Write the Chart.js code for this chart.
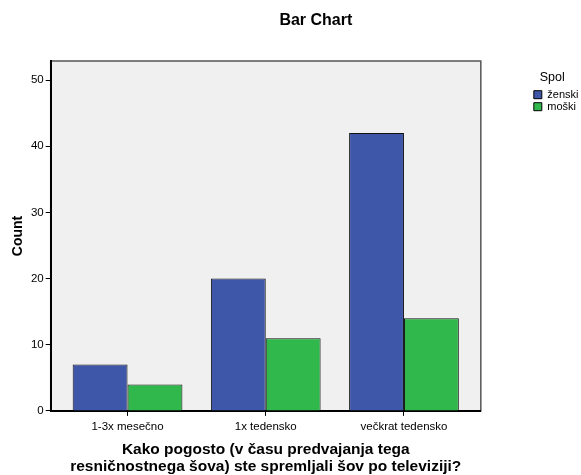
<!DOCTYPE html>
<html>
<head>
<meta charset="utf-8">
<script src="https://cdn.jsdelivr.net/npm/chart.js@4"></script>
<style>
  body { margin: 0; background: #fff; }
  #wrap { width: 581px; height: 475px; }
</style>
</head>
<body>
<div id="wrap"><canvas id="bar-chart"></canvas></div>
<script>
const categories = ["1-3x mesečno", "1x tedensko", "večkrat tedensko"];
const zenski = [7, 20, 42];
const moski = [4, 11, 14];
const y_ticks = [0, 10, 20, 30, 40, 50];

const ctx = document.getElementById("bar-chart").getContext("2d");
Chart.defaults.font.family = "'Liberation Sans', Arial, sans-serif";
Chart.defaults.color = "#000";

// grey plot background + frame, like the SPSS output
const plotFrame = {
  id: "plotFrame",
  afterLayout(chart) {
    // SPSS leaves a little gap between the frame and the first/last category
    const x = chart.scales.x, inset = 7.75;
    x._startPixel += inset;
    x._endPixel -= inset;
    x._length -= 2 * inset;
    // title is centred over plot + legend, not the whole canvas
    if (chart.titleBlock) {
      chart.titleBlock.left = chart.chartArea.left;
      chart.titleBlock.right = chart.width;
    }
    // legend title "Spol" sits a bit left of the legend's centre
    if (chart.legend) chart.legend.width -= 17;
  },
  beforeDraw(chart) {
    const a = chart.chartArea, c = chart.ctx;
    c.save();
    c.fillStyle = "#f0f0f0";
    c.fillRect(a.left, a.top, a.right - a.left, a.bottom - a.top);
    c.strokeStyle = "#555";
    c.lineWidth = 1.5;
    c.strokeRect(a.left, a.top, a.right - a.left, a.bottom - a.top);
    c.restore();
  }
};

new Chart(ctx, {
  type: "bar",
  data: {
    labels: categories,
    datasets: [
      {
        label: "ženski",
        data: zenski,
        backgroundColor: "rgb(62, 87, 168)",
        borderColor: "#111",
        borderWidth: 1
      },
      {
        label: "moški",
        data: moski,
        backgroundColor: "rgb(48, 184, 76)",
        borderColor: "#111",
        borderWidth: 1
      }
    ]
  },
  options: {
    responsive: true,
    maintainAspectRatio: false,
    animation: false,
    categoryPercentage: 0.794,
    barPercentage: 1,
    layout: { padding: { top: 0, right: -7.5, bottom: 0, left: 0 } },
    plugins: {
      title: {
        display: true,
        text: "Bar Chart",
        font: { size: 16, weight: "bold" },
        padding: { top: 11.4, bottom: 30.4 }
      },
      legend: {
        position: "right",
        align: "start",
        fullSize: false,
        title: {
          display: true,
          text: "Spol",
          position: "center",
          font: { size: 12.5 },
          padding: { top: 10.6, bottom: 1.6 }
        },
        labels: {
          boxWidth: 8,
          boxHeight: 8,
          padding: 1,
          font: { size: 11 },
          generateLabels(chart) {
            return chart.data.datasets.map((ds, i) => ({
              text: ds.label,
              fillStyle: ds.backgroundColor,
              strokeStyle: "#000",
              lineWidth: 1,
              datasetIndex: i
            }));
          }
        }
      },
      tooltip: { enabled: false }
    },
    scales: {
      x: {
        grid: { display: true, drawOnChartArea: false, offset: false, tickLength: 5, color: "#000", lineWidth: 1 },
        border: { display: true, color: "#000", width: 2 },
        ticks: { font: { size: 11.5 }, padding: 4.4 },
        title: {
          display: true,
          text: ["Kako pogosto (v času predvajanja tega", "resničnostnega šova) ste spremljali šov po televiziji?"],
          font: { size: 15.5, weight: "bold", lineHeight: 1.1 },
          padding: { top: 2.4, bottom: 0 }
        }
      },
      y: {
        min: 0,
        max: 52.9,
        afterBuildTicks(scale) {
          scale.ticks = y_ticks.map(v => ({ value: v }));
        },
        grid: { display: true, drawOnChartArea: false, tickLength: 5, color: "#000", lineWidth: 1 },
        border: { display: true, color: "#000", width: 2 },
        ticks: { font: { size: 11.5 }, padding: 2 },
        title: {
          display: true,
          text: "Count",
          font: { size: 14, weight: "bold" },
          padding: { top: 9.6, bottom: 2.5 }
        }
      },
      // empty space between the plot frame and the legend
      spacer: {
        type: "linear",
        axis: "y",
        position: "right",
        display: true,
        afterFit(scale) { scale.width = 52; },
        grid: { display: false },
        border: { display: false },
        ticks: { display: false }
      }
    }
  },
  plugins: [plotFrame]
});
</script>
</body>
</html>
